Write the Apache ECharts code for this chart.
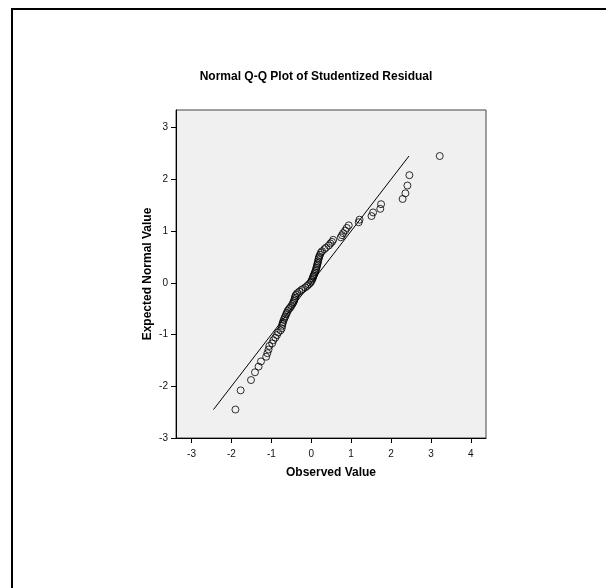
<!DOCTYPE html>
<html>
<head>
<meta charset="utf-8">
<script src="https://cdn.jsdelivr.net/npm/echarts@6/dist/echarts.min.js"></script>
<style>
  html, body { margin:0; padding:0; background:#fff; }
  #main { width:606px; height:588px; }
</style>
</head>
<body>
<div id="main"></div>
<script>
// observed studentized residuals (sorted) and their expected normal values
var observed = [
  -1.90, -1.77, -1.51, -1.41, -1.32, -1.26, -1.13, -1.10, -1.07, -1.05,
  -0.98, -0.95, -0.90, -0.86, -0.83, -0.77, -0.74, -0.73, -0.72, -0.71,
  -0.69, -0.67, -0.65, -0.63, -0.61, -0.59, -0.56, -0.53, -0.50, -0.47,
  -0.45, -0.43, -0.42, -0.41, -0.40, -0.38, -0.35, -0.30, -0.25, -0.21,
  -0.15, -0.10, -0.06, -0.02, 0.00, 0.02, 0.04, 0.05, 0.06, 0.08,
  0.09, 0.11, 0.12, 0.13, 0.14, 0.15, 0.16, 0.17, 0.18, 0.19,
  0.20, 0.22, 0.24, 0.27, 0.33, 0.37, 0.44, 0.48, 0.52, 0.55,
  0.74, 0.77, 0.80, 0.85, 0.89, 0.94, 1.19, 1.21, 1.51, 1.55,
  1.73, 1.75, 2.29, 2.36, 2.41, 2.46, 3.22
];
var expected = [
  -2.45, -2.08, -1.88, -1.73, -1.62, -1.52, -1.43, -1.36, -1.29, -1.22,
  -1.17, -1.11, -1.06, -1.01, -0.96, -0.92, -0.88, -0.83, -0.79, -0.76,
  -0.72, -0.68, -0.65, -0.61, -0.58, -0.54, -0.51, -0.48, -0.45, -0.41,
  -0.38, -0.35, -0.32, -0.29, -0.26, -0.23, -0.20, -0.17, -0.14, -0.12,
  -0.09, -0.06, -0.03, 0.00, 0.03, 0.06, 0.09, 0.12, 0.14, 0.17,
  0.20, 0.23, 0.26, 0.29, 0.32, 0.35, 0.38, 0.41, 0.45, 0.48,
  0.51, 0.54, 0.58, 0.61, 0.65, 0.68, 0.72, 0.76, 0.79, 0.83,
  0.88, 0.92, 0.96, 1.01, 1.06, 1.11, 1.17, 1.22, 1.29, 1.36,
  1.43, 1.52, 1.62, 1.73, 1.88, 2.08, 2.45
];
// reference line endpoints
var refLine = [[-2.45, -2.45], [2.45, 2.45]];
var xTicks = [-3, -2, -1, 0, 1, 2, 3, 4];
var yTicks = [-3, -2, -1, 0, 1, 2, 3];

var points = observed.map(function (v, i) { return [v, expected[i]]; });

var chart = echarts.init(document.getElementById('main'));
var font = 'Liberation Sans, Arial, sans-serif';

chart.setOption({
  backgroundColor: '#fff',
  animation: false,
  title: {
    text: 'Normal Q-Q Plot of Studentized Residual',
    left: 311,
    top: 66,
    textAlign: 'center',
    textStyle: { fontFamily: font, fontSize: 12, fontWeight: 'bold', color: '#000' }
  },
  graphic: [{
    type: 'rect',
    shape: { x: 12, y: 9, width: 800, height: 800 },
    style: { fill: 'none', stroke: '#000', lineWidth: 2 },
    silent: true
  }],
  grid: {
    left: 176, top: 110, width: 310, height: 328,
    show: true,
    backgroundColor: '#f0f0f0',
    borderColor: '#444',
    borderWidth: 1
  },
  xAxis: {
    type: 'value',
    min: -3.39,
    max: 4.38,
    name: 'Observed Value',
    nameLocation: 'middle',
    nameGap: 29,
    nameMoveOverlap: false,
    nameTextStyle: { fontFamily: font, fontSize: 12, fontWeight: 'bold', color: '#000' },
    splitLine: { show: false },
    axisLine: { show: true, onZero: false, lineStyle: { color: '#000', width: 1 } },
    axisTick: { show: true, length: 5, customValues: xTicks, lineStyle: { color: '#000' } },
    axisLabel: { customValues: xTicks, margin: 11, fontFamily: font, fontSize: 10, color: '#111' }
  },
  yAxis: {
    type: 'value',
    min: -3,
    max: 3.34,
    name: 'Expected Normal Value',
    nameLocation: 'middle',
    nameGap: 22,
    nameMoveOverlap: false,
    nameTextStyle: { fontFamily: font, fontSize: 12, fontWeight: 'bold', color: '#000' },
    splitLine: { show: false },
    axisLine: { show: true, onZero: false, lineStyle: { color: '#000', width: 1 } },
    axisTick: { show: true, length: 5, customValues: yTicks, lineStyle: { color: '#000' } },
    axisLabel: { customValues: yTicks, margin: 8, fontFamily: font, fontSize: 10, color: '#111' }
  },
  series: [
    {
      type: 'line',
      data: refLine,
      symbol: 'none',
      lineStyle: { color: '#000', width: 1 },
      silent: true
    },
    {
      type: 'scatter',
      data: points,
      symbol: 'circle',
      symbolSize: 7,
      itemStyle: { color: 'rgba(0,0,0,0)', borderColor: '#000', borderWidth: 1 }
    }
  ]
});
</script>
</body>
</html>
